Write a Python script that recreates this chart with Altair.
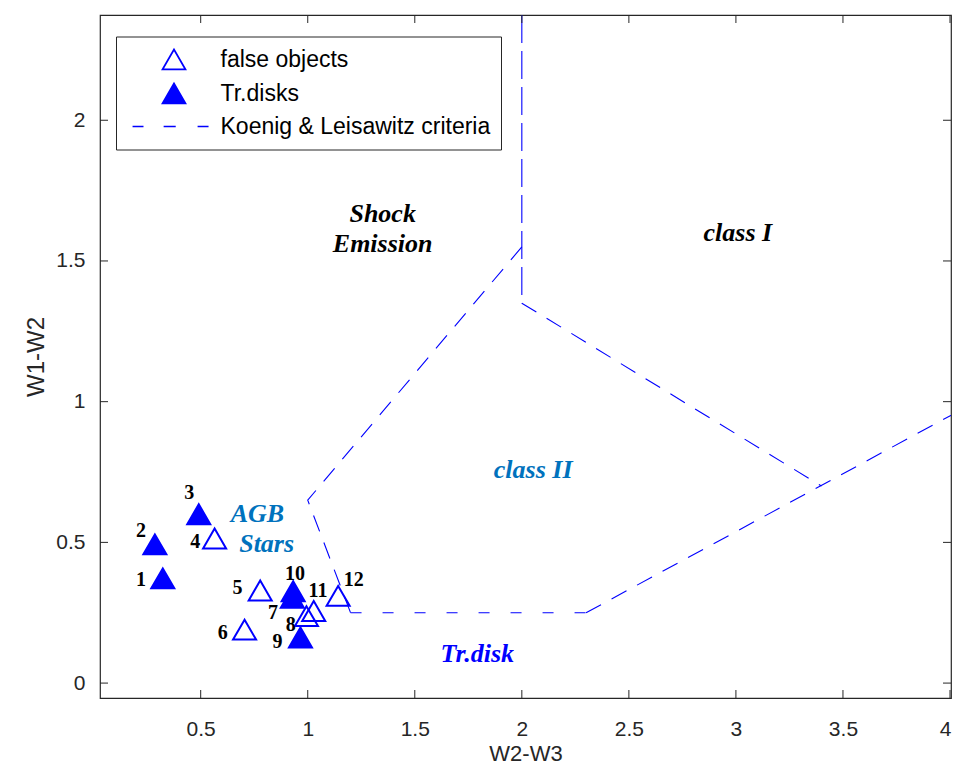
import altair as alt
import pandas as pd

# ---------------- data ----------------
obj_id = ["1", "2", "3", "4", "5", "6", "7", "8", "9", "10", "11", "12"]
obj_x = [0.323, 0.286, 0.491, 0.565, 0.778, 0.705, 0.928, 0.994, 0.966, 0.932, 1.028, 1.142]
obj_y = [0.372, 0.493, 0.600, 0.514, 0.329, 0.190, 0.303, 0.238, 0.162, 0.326, 0.256, 0.310]
obj_type = ["Tr.disks", "Tr.disks", "Tr.disks", "false objects", "false objects",
            "false objects", "Tr.disks", "false objects", "Tr.disks", "Tr.disks",
            "false objects", "false objects"]
lab_x = [0.221, 0.221, 0.447, 0.475, 0.672, 0.603, 0.838, 0.921, 0.859, 0.940, 1.048, 1.215]
lab_y = [0.368, 0.540, 0.676, 0.502, 0.339, 0.179, 0.250, 0.206, 0.147, 0.388, 0.327, 0.365]

# Koenig & Leisawitz criteria boundaries (polylines)
vert_x = [2.0, 2.0]
vert_y = [2.374, 1.35]
classI_x = [2.0, 3.4]
classI_y = [1.35, 0.70]
left_x = [2.0, 1.0, 1.2]
left_y = [1.55, 0.65, 0.25]
bottom_x = [1.2, 2.3]
bottom_y = [0.25, 0.25]
rise_x = [2.3, 4.042]
rise_y = [0.25, 0.967]

region_text = ["Shock", "Emission", "class I", "class II", "AGB", "Stars", "Tr.disk"]
region_x = [1.350, 1.350, 3.009, 2.053, 0.765, 0.808, 1.792]
region_y = [1.667, 1.560, 1.599, 0.757, 0.601, 0.494, 0.103]
region_color = ["#000000", "#000000", "#000000", "#0072BD", "#0072BD", "#0072BD", "#0000FF"]

x_ticks = [0.5, 1, 1.5, 2, 2.5, 3, 3.5, 4]
y_ticks = [0, 0.5, 1, 1.5, 2]
x_domain = [0.0297, 4.0046]
y_domain = [-0.053, 2.374]

categories = ["false objects", "Tr.disks", "Koenig & Leisawitz criteria"]

# ---------------- styling ----------------
W, H = 851, 683
SANS = "Liberation Sans"
SERIF = "Liberation Serif"
AX = "#262626"
BLUE = "#0000FF"
TICK = 8
DASH_PATH = "M-3.6,0L-2.65,0M-0.9,0L0.15,0M2.05,0L3.0,0"

xs = alt.Scale(domain=x_domain, nice=False, zero=False)
ys = alt.Scale(domain=y_domain, nice=False, zero=False)

x_axis = alt.Axis(values=x_ticks, format="~g", title="W2-W3", ticks=False, tickSize=0,
                  domain=False, grid=False, labelPadding=20, titlePadding=4,
                  labelFlush=6, labelFlushOffset=1,
                  labelFont=SANS, labelFontSize=21, labelColor=AX,
                  titleFont=SANS, titleFontSize=22, titleFontWeight="normal", titleColor=AX)
y_axis = alt.Axis(values=y_ticks, format="~g", title="W1-W2", ticks=False, tickSize=0,
                  domain=False, grid=False, labelPadding=15, titlePadding=7,
                  labelFont=SANS, labelFontSize=21, labelColor=AX,
                  titleFont=SANS, titleFontSize=24, titleFontWeight="normal", titleColor=AX)

X = lambda f: alt.X(f, type="quantitative", scale=xs, axis=x_axis)
Y = lambda f: alt.Y(f, type="quantitative", scale=ys, axis=y_axis)

legend = alt.Legend(
    title=None, orient="none", legendX=16, legendY=21.5,
    strokeColor=AX, fillColor="white", padding=10.5, rowPadding=7,
    labelFont=SANS, labelFontSize=23, labelColor="#000000", labelLimit=500,
    symbolOffset=35, labelOffset=34, symbolSize=530, symbolStrokeWidth=1.7,
)

pts = pd.DataFrame({"id": obj_id, "x": obj_x, "y": obj_y, "type": obj_type})
labs = pd.DataFrame({"id": obj_id, "x": lab_x, "y": lab_y})
regs = pd.DataFrame({"t": region_text, "x": region_x, "y": region_y, "c": region_color})


def crit_line(xv, yv, dash):
    df = pd.DataFrame({"x": xv, "y": yv, "o": list(range(len(xv)))})
    return alt.Chart(df).mark_line(color=BLUE, strokeWidth=1.1, strokeDash=dash, clip=True).encode(
        x=X("x"), y=Y("y"), order="o:Q")


lines = [
    crit_line(vert_x, vert_y, [28, 8]),
    crit_line(classI_x, classI_y, [17, 12]),
    crit_line(left_x, left_y, [17, 12]),
    crit_line(bottom_x, bottom_y, [11, 21]),
    crit_line(rise_x, rise_y, [17, 12]),
]

points = alt.Chart(pts).mark_point(size=530, opacity=1, strokeWidth=2).encode(
    x=X("x"), y=Y("y"),
    shape=alt.Shape("type:N", scale=alt.Scale(domain=categories,
                    range=["triangle-up", "triangle-up", DASH_PATH]), legend=legend),
    fill=alt.Fill("type:N", scale=alt.Scale(domain=categories,
                  range=["transparent", BLUE, "transparent"]), legend=legend),
    stroke=alt.Stroke("type:N", scale=alt.Scale(domain=categories,
                      range=[BLUE, BLUE, BLUE]), legend=legend),
)

num_text = alt.Chart(labs).mark_text(font=SERIF, fontSize=20, fontWeight="bold",
                                     color="#000000", align="center", baseline="middle").encode(
    x=X("x"), y=Y("y"), text="id:N")

reg_text = alt.Chart(regs).mark_text(font=SERIF, fontSize=26, fontWeight="bold", fontStyle="italic",
                                     align="center", baseline="middle").encode(
    x=X("x"), y=Y("y"), text="t:N", color=alt.Color("c:N", scale=None))

xt = pd.DataFrame({"v": x_ticks})
yt = pd.DataFrame({"v": y_ticks})
ticks = [
    alt.Chart(xt).mark_rule(color=AX, strokeWidth=1).encode(x=X("v"), y=alt.value(H), y2=alt.value(H - TICK)),
    alt.Chart(xt).mark_rule(color=AX, strokeWidth=1).encode(x=X("v"), y=alt.value(0), y2=alt.value(TICK)),
    alt.Chart(yt).mark_rule(color=AX, strokeWidth=1).encode(y=Y("v"), x=alt.value(0), x2=alt.value(TICK)),
    alt.Chart(yt).mark_rule(color=AX, strokeWidth=1).encode(y=Y("v"), x=alt.value(W), x2=alt.value(W - TICK)),
]

chart = alt.layer(*lines, points, num_text, reg_text, *ticks).properties(
    width=W, height=H,
    padding={"left": 16, "top": 6, "right": 0, "bottom": 0},
    background="white",
).configure_view(stroke=AX, strokeWidth=1.2)

chart.save("out.html", embed_options={"renderer": "svg", "actions": False})
